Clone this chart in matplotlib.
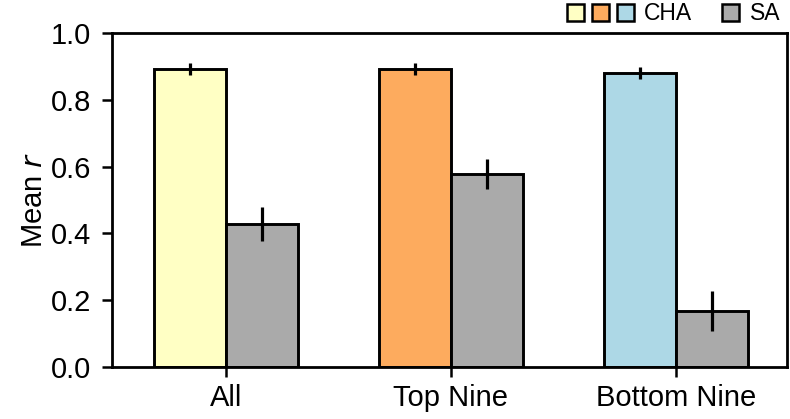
import numpy as np
import matplotlib.pyplot as plt
from matplotlib.patches import Patch
from matplotlib.legend_handler import HandlerTuple

plt.rcParams['font.family'] = ['Liberation Sans', 'DejaVu Sans']

#data
groups = ['All', 'Top Nine', 'Bottom Nine']
cha_mean = [0.892, 0.892, 0.880]
cha_err = [0.018, 0.018, 0.018]
sa_mean = [0.428, 0.578, 0.168]
sa_err = [0.050, 0.045, 0.060]

cha_colors = ['#ffffc4', '#fdab5e', '#add8e6']
sa_color = '#aaaaaa'

W, H = 790, 419
fig = plt.figure(figsize=(W/100, H/100), dpi=100)
ax = fig.add_axes([0.1418, 0.1241, 0.8544, 0.7971])

x = np.arange(len(groups))
w = 0.32
err_kw = dict(elinewidth=2.3, capsize=0, ecolor='black')
ax.bar(x - w/2, cha_mean, w, yerr=cha_err, color=cha_colors,
       edgecolor='black', linewidth=2.1, error_kw=err_kw)
ax.bar(x + w/2, sa_mean, w, yerr=sa_err, color=sa_color,
       edgecolor='black', linewidth=2.1, error_kw=err_kw)

ax.set_xlim(-0.505, 2.495)
ax.set_ylim(0, 1.0)
ax.set_xticks(x)
ax.set_xticklabels(groups, fontsize=21)
yt = np.arange(0, 1.01, 0.2)
ax.set_yticks(yt)
ax.set_yticklabels(['%.1f' % v for v in yt], fontsize=21)
ax.tick_params(direction='out', length=7, width=1.8)
ax.tick_params(axis='y', pad=8)
ax.tick_params(axis='x', pad=5)
for s in ax.spines.values():
    s.set_linewidth(2.0)
ax.set_ylabel('Mean $r$', fontsize=21, labelpad=2)

#legend: three CHA swatches share one label, SA gets its own
fs = 16.5
cha_handles = tuple(Patch(facecolor=c, edgecolor='black', linewidth=1.8) for c in cha_colors)
sa_handle = Patch(facecolor=sa_color, edgecolor='black', linewidth=1.8)
leg1 = fig.legend([cha_handles], ['CHA'],
                  handler_map={tuple: HandlerTuple(ndivide=None, pad=0.33)},
                  loc='upper left', bbox_to_anchor=(565/W, 1.0), frameon=False,
                  fontsize=fs, handlelength=2.9, handleheight=0.75, handletextpad=0.45,
                  borderpad=0.1, borderaxespad=0)
leg2 = fig.legend([sa_handle], ['SA'],
                  loc='upper left', bbox_to_anchor=(720/W, 1.0), frameon=False,
                  fontsize=fs, handlelength=0.75, handleheight=0.75, handletextpad=0.45,
                  borderpad=0.1, borderaxespad=0)

plt.savefig('out.png', dpi=100)
